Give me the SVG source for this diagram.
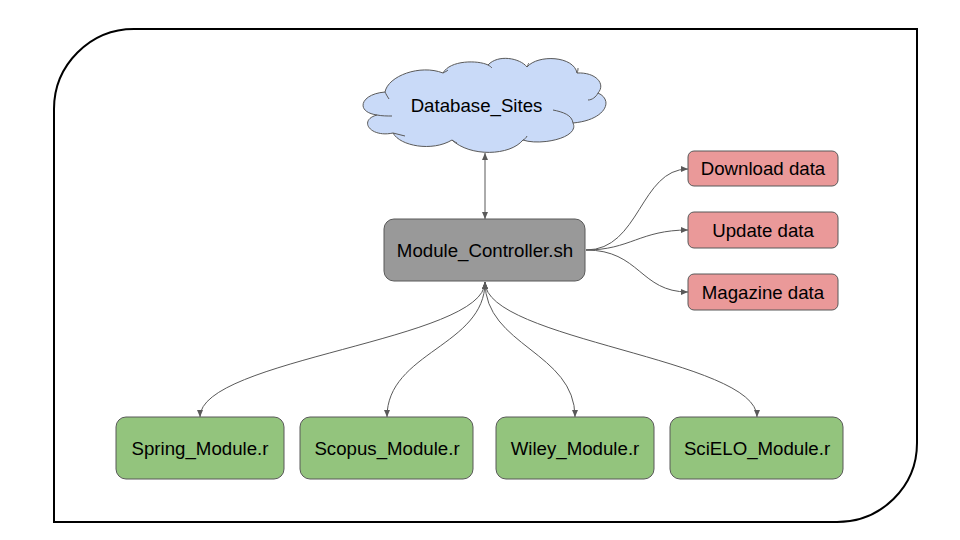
<svg xmlns="http://www.w3.org/2000/svg" width="960" height="540" viewBox="0 0 960 540">
<defs>
<marker id="a" markerUnits="userSpaceOnUse" markerWidth="8" markerHeight="8" refX="7" refY="3.5" orient="auto-start-reverse"><path d="M0 0.5L7 3.5L0 6.5Z" fill="#595959"/></marker>
</defs>
<style>
.n{stroke:#595959;stroke-width:1}
.t{font-family:"Liberation Sans",Arial,sans-serif;font-size:18.67px;fill:#000;text-anchor:middle}
.c{fill:none;stroke:#595959;stroke-width:1;marker-end:url(#a)}
.b{marker-start:url(#a)}
</style>
<rect width="960" height="540" fill="#fff"/>
<path id="frame" d="M134 29H917V443C917 487 881 522 837 522H54V109C54 65 90 29 134 29Z" fill="#fff" stroke="#000" stroke-width="2"/>
<g id="connectors">
<path class="c b" d="M485 153V219"/>
<path class="c" d="M586 250C640 250 640 169 688 169"/>
<path class="c" d="M586 250C630 250 640 230 688 230"/>
<path class="c" d="M586 250C640 250 640 292 688 292"/>
<path class="c b" d="M485 282C485 340 200 359 200 417"/>
<path class="c b" d="M485 282C485 346 387 352 387 417"/>
<path class="c b" d="M485 282C485 346 575 352 575 417"/>
<path class="c b" d="M485 282C485 340 757 359 757 417"/>
</g>
<g id="database_sites">
<path class="n" fill="#c9daf8" d="M385 92C388 76 420 64 443 73C450 60 478 60 488 65C498 54 520 58 527 67C538 54 574 56 577 73C596 72 606 84 598 93C614 100 606 120 573 123C580 138 540 146 523 140C510 156 470 157 452 140C432 152 400 146 393 133C370 138 358 120 377 115C355 112 360 94 385 92Z"/>
<path fill="none" stroke="#595959" d="M385 92C386 94 387 96 389 99M377 115C382 116 387 116 392 116M393 133C397 134 401 135 405 136M452 140C453 141 455 142 457 143M523 140C525 139 526 138 527 136M553 110C563 112 572 115 573 123M588 100C592 100 596 97 598 93M577 73C578 71 578 69 578 68M527 67C528 65 528 64 529 63M488 65C490 66 491 67 492 68M443 73C445 72 447 71 448 70"/>
<text class="t" x="476.5" y="112">Database_Sites</text>
</g>
<g id="module_controller"><rect class="n" x="384" y="219" width="201" height="62" rx="10" fill="#999"/><text class="t" x="485" y="257">Module_Controller.sh</text></g>
<g id="download_data"><rect class="n" x="688" y="151" width="150" height="35" rx="6" fill="#ea9999"/><text class="t" x="763" y="175">Download data</text></g>
<g id="update_data"><rect class="n" x="688" y="212" width="150" height="36" rx="6" fill="#ea9999"/><text class="t" x="763" y="237">Update data</text></g>
<g id="magazine_data"><rect class="n" x="688" y="274" width="150" height="36" rx="6" fill="#ea9999"/><text class="t" x="763" y="299">Magazine data</text></g>
<g id="spring_module"><rect class="n" x="116" y="417" width="168" height="62" rx="10" fill="#93c47d"/><text class="t" x="200" y="455">Spring_Module.r</text></g>
<g id="scopus_module"><rect class="n" x="300" y="417" width="173" height="62" rx="10" fill="#93c47d"/><text class="t" x="387" y="455">Scopus_Module.r</text></g>
<g id="wiley_module"><rect class="n" x="496" y="417" width="158" height="62" rx="10" fill="#93c47d"/><text class="t" x="575" y="455">Wiley_Module.r</text></g>
<g id="scielo_module"><rect class="n" x="670" y="417" width="173" height="62" rx="10" fill="#93c47d"/><text class="t" x="757" y="455">SciELO_Module.r</text></g>
</svg>
